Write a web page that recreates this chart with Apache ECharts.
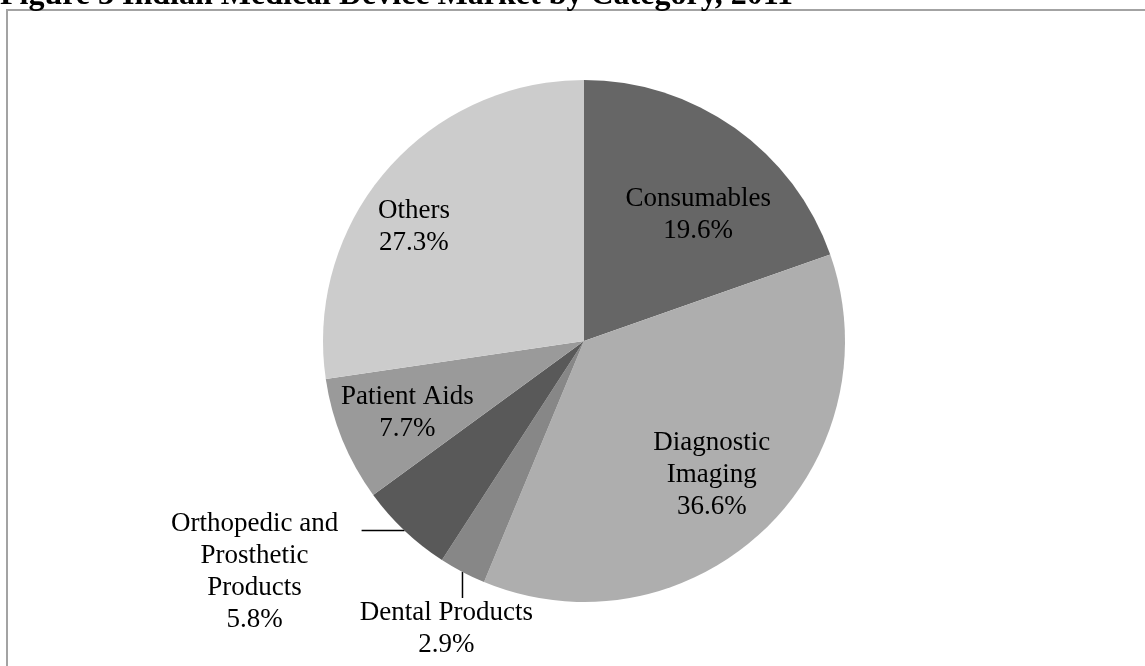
<!DOCTYPE html>
<html>
<head>
<meta charset="utf-8">
<script src="https://cdn.jsdelivr.net/npm/echarts@6/dist/echarts.min.js"></script>
<style>
html,body{margin:0;padding:0;background:#fff;}
#c{width:1145px;height:666px;}
</style>
</head>
<body>
<div id="c"></div>
<script>
var titleText = 'Figure 3 Indian Medical Device Market by Category, 2011';
var categories = ['Consumables', 'Diagnostic\nImaging', 'Dental Products', 'Orthopedic and\nProsthetic\nProducts', 'Patient Aids', 'Others'];
var values = [19.6, 36.6, 2.9, 5.8, 7.7, 27.3];
var colors = ['#666666', '#aeaeae', '#878787', '#595959', '#9a9a9a', '#cccccc'];

// label placement tweaks (offsets relative to the library's own label anchors)
var insideShift = {0: [37, -17], 1: [36, 37], 4: [-53, 21], 5: [-69, -27]};
var outsideCfg = {
  2: {line: [0, 26], text: [-16, 57]},
  3: {line: [-43, 0], text: [-150, 41]}
};

var chart = echarts.init(document.getElementById('c'), null, {renderer: 'canvas'});
var data = categories.map(function (n, i) {
  var outside = outsideCfg[i] != null;
  return {
    name: n,
    value: values[i],
    itemStyle: {color: colors[i]},
    label: {position: outside ? 'outside' : 'inside'},
    labelLine: {show: outside}
  };
});

chart.setOption({
  animation: false,
  backgroundColor: '#ffffff',
  graphic: [
    {
      type: 'rect', z: 0,
      shape: {x: 7, y: 10, width: 1200, height: 700},
      style: {fill: 'none', stroke: '#a3a3a3', lineWidth: 2}
    },
    {
      type: 'text', z: 10, x: 0, y: -4,
      style: {
        text: titleText,
        font: 'bold 32px "Liberation Serif"',
        fill: '#000', verticalAlign: 'middle', align: 'left'
      }
    }
  ],
  series: [{
    type: 'pie',
    center: [584, 341],
    radius: 261,
    startAngle: 90,
    clockwise: true,
    avoidLabelOverlap: false,
    itemStyle: {borderWidth: 0},
    emphasis: {disabled: true},
    label: {
      show: true,
      color: '#000',
      fontFamily: 'Liberation Serif',
      fontSize: 27,
      lineHeight: 32,
      align: 'center',
      formatter: function (p) { return p.name + '\n' + p.value.toFixed(1) + '%'; }
    },
    labelLine: {show: true, length: 10, length2: 10, lineStyle: {color: '#000', width: 1.5}},
    labelLayout: function (p) {
      var i = p.dataIndex;
      var r = p.labelRect;
      if (outsideCfg[i]) {
        var pt = p.labelLinePoints[0];
        var c = outsideCfg[i];
        var e = [pt[0] + c.line[0], pt[1] + c.line[1]];
        return {
          x: pt[0] + c.text[0], y: pt[1] + c.text[1],
          align: 'center', verticalAlign: 'middle',
          labelLinePoints: [[pt[0], pt[1]], e, e]
        };
      }
      var s = insideShift[i] || [0, 0];
      return {
        x: r.x + r.width / 2 + s[0],
        y: r.y + r.height / 2 + s[1],
        align: 'center', verticalAlign: 'middle'
      };
    },
    data: data
  }]
});
</script>
</body>
</html>
